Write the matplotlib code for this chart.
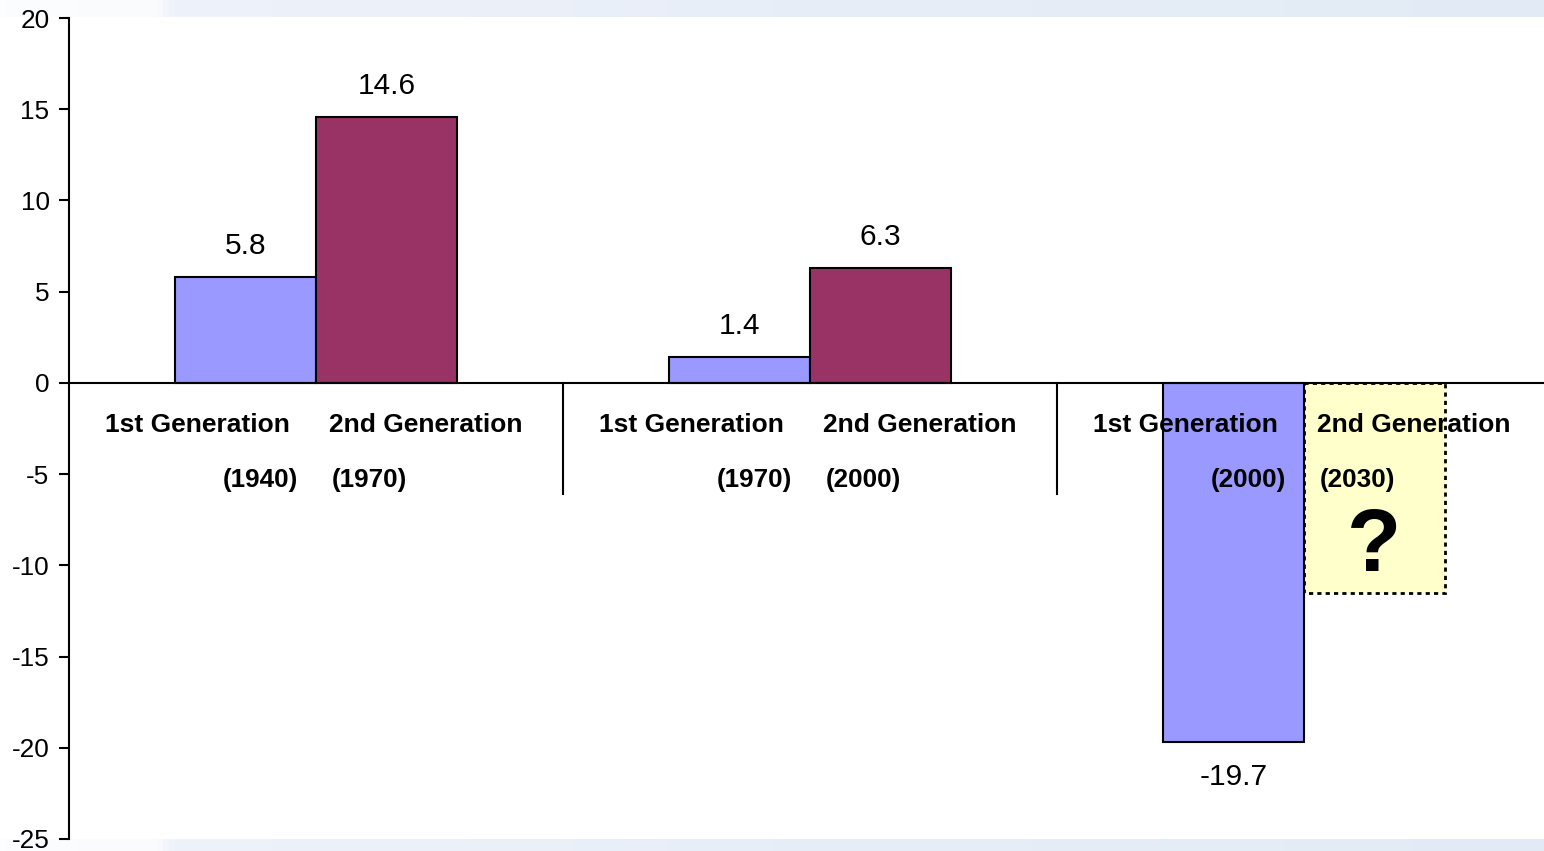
import numpy as np
import matplotlib
matplotlib.use("Agg")
import matplotlib.pyplot as plt
from matplotlib.colors import LinearSegmentedColormap

# Data
first_gen_years = ["(1940)", "(1970)", "(2000)"]
second_gen_years = ["(1970)", "(2000)", "(2030)"]
first_gen_values = [5.8, 1.4, -19.7]
second_gen_values = [14.6, 6.3]          # third period still unknown
unknown_depth = -11.5                    # placeholder box for the unknown period
series_names = ["1st Generation", "2nd Generation"]
y_ticks = [20, 15, 10, 5, 0, -5, -10, -15, -20, -25]

BLUE = "#9999ff"
MAROON = "#993366"
PALE = "#ffffcc"

plt.rcParams["font.family"] = ["Liberation Sans", "DejaVu Sans"]
plt.rcParams["axes.unicode_minus"] = False

W, H = 1544, 851
fig = plt.figure(figsize=(W / 100, H / 100), dpi=100, facecolor="white")

# Light blue banner strips along top and bottom edges
cmap = LinearSegmentedColormap.from_list(
    "band", [(0, "#fcfdfe"), (0.1, "#fafbfd"), (0.11, "#eef2fa"),
             (0.5, "#e8eef8"), (1, "#e2ebf5")])
grad = np.linspace(0, 1, 512)[None, :]
for (b, h) in [(1 - 17 / H, 17 / H), (0, 12 / H)]:
    sa = fig.add_axes([0, b, 1, h])
    sa.imshow(grad, aspect="auto", cmap=cmap, extent=[0, 1, 0, 1])
    sa.set_axis_off()

ax = fig.add_axes([69 / W, 12 / H, 1482 / W, 821 / H])
ax.set_facecolor("none")

x = np.arange(len(first_gen_values))
bw = 0.285

ax.bar(x - bw / 2, first_gen_values, width=bw, color=BLUE,
       edgecolor="black", linewidth=1.5, zorder=2)
ax.bar(x[:len(second_gen_values)] + bw / 2, second_gen_values, width=bw,
       color=MAROON, edgecolor="black", linewidth=1.5, zorder=2)

# Placeholder for the unknown 2nd generation value
ax.bar(x[-1] + bw / 2, unknown_depth, width=bw, color=PALE,
       edgecolor="none", zorder=1)
ax.bar(x[-1] + bw / 2, unknown_depth, width=bw, fill=False,
       edgecolor="black", linewidth=2, linestyle=(0, (1.5, 1.5)), zorder=4)
ax.text(x[-1] + bw / 2, unknown_depth / 2 - 3.3, "?", ha="center",
        va="center", fontsize=64, fontweight="bold", zorder=5)

# Value labels
for xi, v in zip(x - bw / 2, first_gen_values):
    ax.text(xi, v + (1.7 if v >= 0 else -1.9), f"{v:.1f}", ha="center",
            va="center", fontsize=21.5, zorder=5)
for xi, v in zip(x[:len(second_gen_values)] + bw / 2, second_gen_values):
    ax.text(xi, v + 1.7, f"{v:.1f}", ha="center", va="center",
            fontsize=21.5, zorder=5)

# Category labels (two rows)
for xi, y1, y2 in zip(x, first_gen_years, second_gen_years):
    ax.text(xi - 0.239, -2.3, series_names[0], ha="center", va="center",
            fontsize=19, fontweight="bold", zorder=3)
    ax.text(xi + 0.223, -2.3, series_names[1], ha="center", va="center",
            fontsize=19, fontweight="bold", zorder=3)
    ax.text(xi - 0.113, -5.35, y1, ha="center", va="center",
            fontsize=18.8, fontweight="bold", zorder=3)
    ax.text(xi + 0.109, -5.35, y2, ha="center", va="center",
            fontsize=18.8, fontweight="bold", zorder=3)

# Group separators
for sx in x[:-1] + 0.5:
    ax.plot([sx, sx], [0, -6.1], color="black", lw=1.5, zorder=3)

ax.axhline(0, color="black", lw=1.5, zorder=3)

ax.set_xlim(-0.5, len(x) - 0.5)
ax.set_ylim(-25, 20)
ax.set_yticks(y_ticks)
ax.set_xticks([])
for s in ["top", "right", "bottom"]:
    ax.spines[s].set_visible(False)
ax.spines["left"].set_linewidth(1.5)
ax.tick_params(axis="y", direction="out", length=7, width=1.5,
               labelsize=18.8, pad=7)

fig.savefig("out.png", dpi=100, facecolor="white")
